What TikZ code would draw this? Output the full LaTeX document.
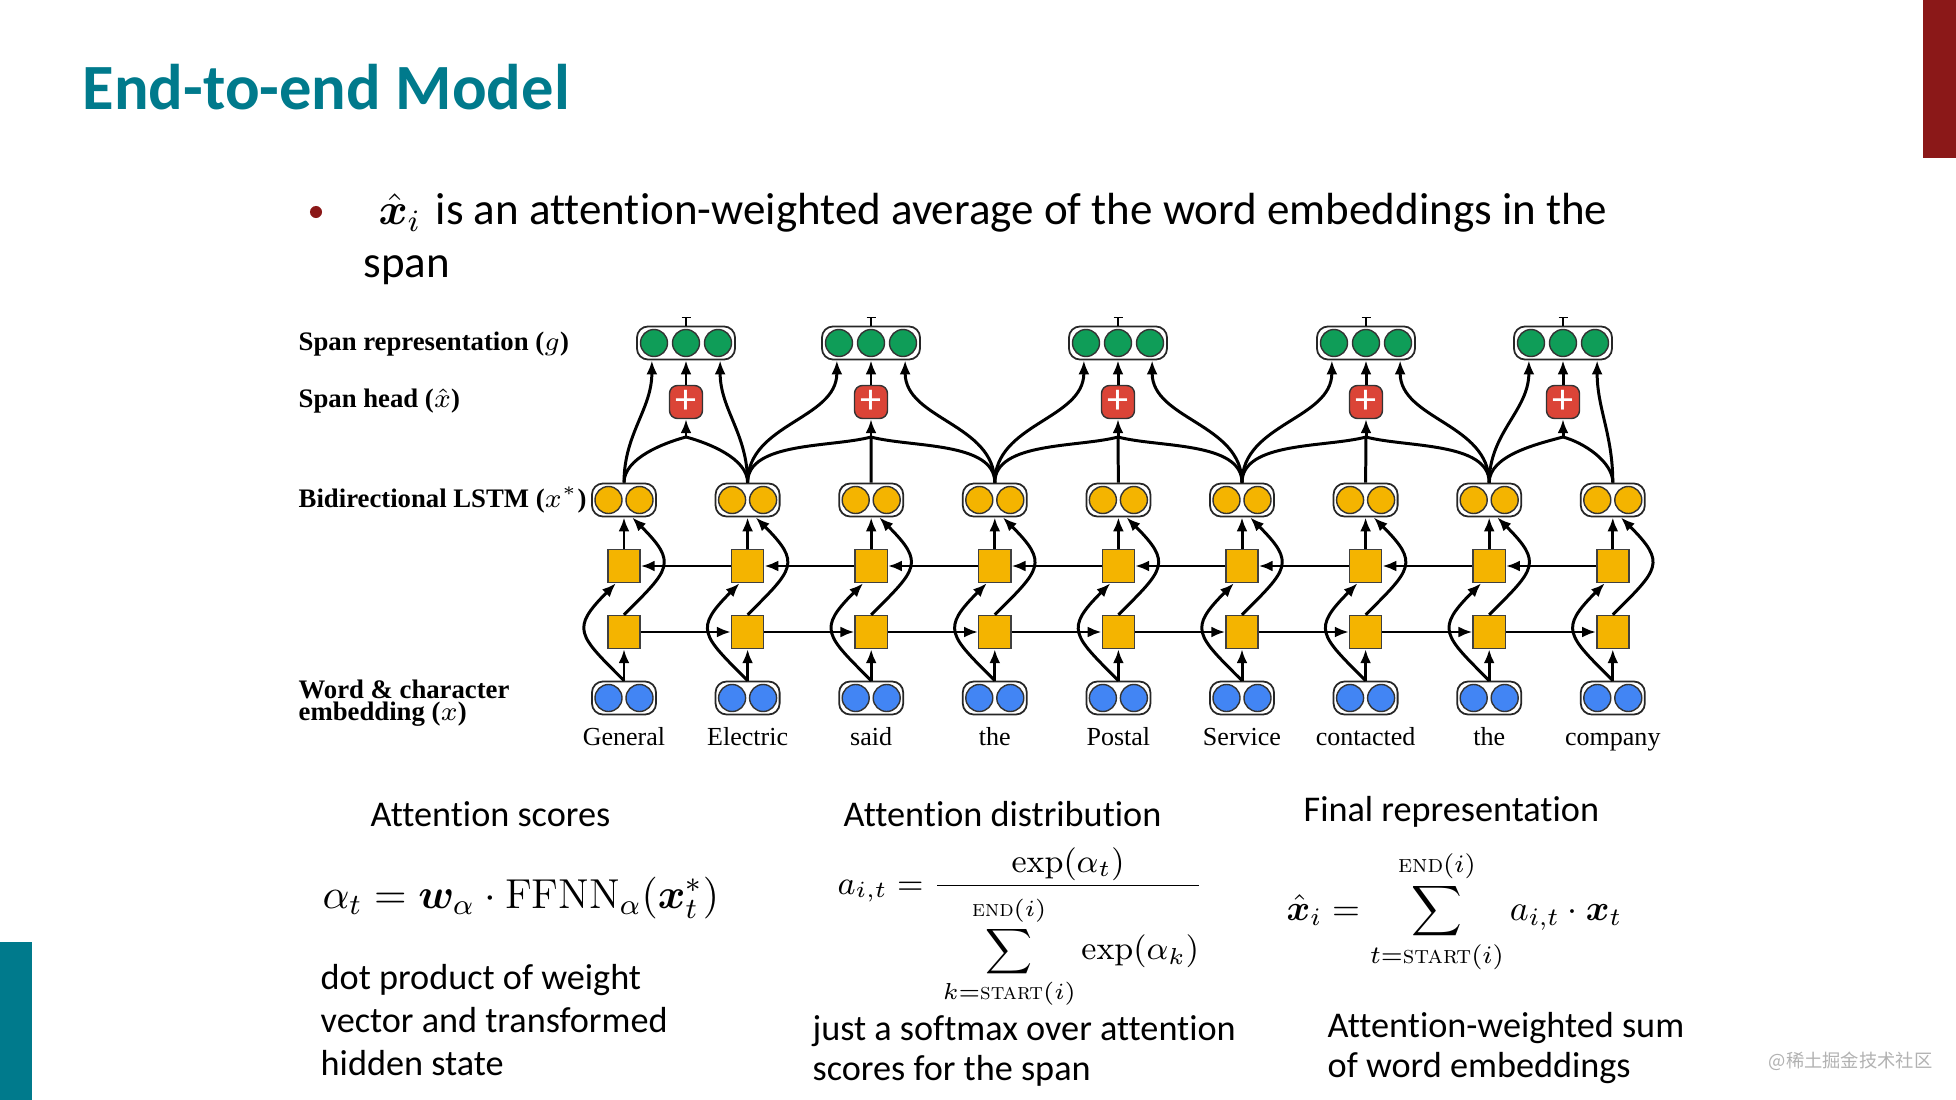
\documentclass[tikz,border=0pt]{standalone}
\usepackage{fix-cm}
\usepackage{amsmath,bm}
\usepackage{fontspec}
\newfontfamily\slidefont[Ligatures={NoCommon,NoContextual}]{Carlito}
\newfontfamily\paperfont{Liberation Serif}
\newfontfamily\cjkfont{Noto Sans CJK SC}
\usetikzlibrary{arrows.meta,positioning}

\definecolor{titleteal}{RGB}{0,122,140}
\definecolor{bardred}{RGB}{139,24,24}
\definecolor{gspan}{RGB}{15,157,88}
\definecolor{ylstm}{RGB}{244,180,0}
\definecolor{bemb}{RGB}{66,133,244}
\definecolor{rhead}{RGB}{219,68,55}
\newcommand{\setfs}[1]{\fontsize{#1}{#1}\selectfont}

\begin{document}
\begin{tikzpicture}[x=0.01cm, y=0.01cm,
  pairbox/.style={draw=black!85, fill=white, rounded corners=1.1mm, line width=0.5pt,
    minimum width=0.64cm, minimum height=0.33cm, inner sep=0pt},
  triobox/.style={pairbox, minimum width=0.98cm},
  neuron/.style={circle, draw=black!80, line width=0.4pt, minimum size=0.27cm, inner sep=0pt},
  cell/.style={draw=black!75, fill=ylstm, line width=0.4pt, minimum width=0.32cm,
    minimum height=0.33cm, inner sep=0pt},
  plusbox/.style={draw=black!80, fill=rhead, rounded corners=0.8mm, line width=0.4pt,
    minimum size=0.33cm, inner sep=0pt, text=white, font=\slidefont\setfs{12}},
  arr/.style={line width=0.85pt, -{Latex[length=1.4mm,width=1.1mm]}},
  wire/.style={line width=0.85pt},
  lbl/.style={anchor=base west, inner sep=0pt, font=\paperfont\bfseries\setfs{7.6}},
  word/.style={anchor=base, inner sep=0pt, font=\paperfont\setfs{7.4}},
  slide/.style={anchor=base west, inner sep=0pt, font=\slidefont\setfs{10.3}}]

  % 画布
  \fill[white] (0,0) rectangle (1956,-1100);
  \useasboundingbox (0,0) rectangle (1956,-1100);
  \fill[bardred] (1923,0) rectangle (1956,-158);
  \fill[titleteal] (0,-942) rectangle (32,-1100);

  % 标题与要点
  \node[anchor=base west, inner sep=0pt, text=titleteal, font=\slidefont\bfseries\setfs{18.35}]
    (title) at (82,-110) {End-to-end Model};
  \node[circle, fill=bardred, minimum size=0.12cm, inner sep=0pt] (dot) at (316,-212) {};
  \node[slide, font=\slidefont\setfs{12.6}] (xh) at (378,-225) {$\hat{\bm{x}}_i$};
  \node[slide, font=\slidefont\setfs{12.8}] (pt1) at (435,-225)
    {is an attention-weighted average of the word embeddings in the};
  \node[slide, font=\slidefont\setfs{12.8}] (pt2) at (363,-277) {span};

  % 左侧层名
  \node[lbl] (lg) at (298,-350) {Span representation ($g$)};
  \node[lbl] (lhead) at (298,-407) {Span head ($\hat{x}$)};
  \node[lbl] (llstm) at (298,-507) {Bidirectional LSTM ($x^{*}$)};
  \node[lbl] (lemb1) at (298,-698) {Word \& character};
  \node[lbl] (lemb2) at (298,-720) {embedding ($x$)};

  % 每个词一列
  \foreach \w [count=\i from 0, evaluate=\i as \cx using 624+123.6*\i] in
      {General,Electric,said,the,Postal,Service,contacted,the,company} {
    \node[pairbox] (b\i) at (\cx,-698) {};
    \node[neuron, fill=bemb] at (\cx-15.5,-698) {};
    \node[neuron, fill=bemb] at (\cx+15.5,-698) {};
    \node[cell] (f\i) at (\cx,-632) {};
    \node[cell] (r\i) at (\cx,-566) {};
    \node[pairbox] (h\i) at (\cx,-500) {};
    \node[neuron, fill=ylstm] at (\cx-15.5,-500) {};
    \node[neuron, fill=ylstm] at (\cx+15.5,-500) {};
    \node[word] (w\i) at (\cx,-745) {\w};
    \draw[arr] (b\i.north) -- (f\i.south);
    \draw[arr] (r\i.north) -- (h\i.south);
    \draw[arr] (b\i.north) to[out=135,in=-135,looseness=1.7] (r\i.-115);
    \draw[arr] (f\i.north) to[out=45,in=-45,looseness=1.7] (h\i.-65);
  }

  % 前向 / 后向
  \foreach \i [evaluate=\i as \j using int(\i+1)] in {0,...,7} {
    \draw[arr] (f\i.east) -- (f\j.west);
    \draw[arr] (r\j.west) -- (r\i.east);
  }

  % 片段表示
  \foreach \k/\gx/\lc/\rc in {1/686/0/1, 2/871/1/3, 3/1118/3/5, 4/1366/5/7, 5/1563/7/8} {
    \node[triobox] (g\k) at (\gx,-343) {};
    \node[neuron, fill=gspan] at (\gx-32,-343) {};
    \node[neuron, fill=gspan] at (\gx,-343) {};
    \node[neuron, fill=gspan] at (\gx+32,-343) {};
    \node[plusbox] (p\k) at (\gx,-402) {+};
    \coordinate (m\k) at (\gx,-437);
    \coordinate[above=0.09cm of g\k.north] (t\k);
    \draw[line width=0.5pt, -{Bar[width=0.9mm]}] (g\k.north) -- (t\k);
    \draw[arr] (h\lc.north) to[out=90,in=-90] (g\k.-153);
    \draw[arr] (h\rc.north) to[out=90,in=-90] (g\k.-27);
    \draw[arr] (p\k.north) -- (g\k.south);
    \draw[wire] (h\lc.north) to[out=90,in=-165,looseness=0.8] (m\k);
    \draw[wire] (h\rc.north) to[out=90,in=-15,looseness=0.8] (m\k);
    \draw[arr] (m\k) -- (p\k.south);
  }
  \foreach \k/\c in {2/2, 3/4, 4/6}
    \draw[wire] (h\c.north) -- (m\k);

  % 公式
  \node[slide] (s1) at (370,-826) {Attention scores};
  \node[slide] (s2) at (843,-826) {Attention distribution};
  \node[slide] (s3) at (1303,-821) {Final representation};
  \node[slide, font=\setfs{11.9}] (eq1) at (322,-908)
    {$\alpha_t = \bm{w}_{\alpha} \cdot \mathrm{FFNN}_{\alpha}(\bm{x}_t^{*})$};
  \node[slide, font=\setfs{9.4}] (eq2) at (837,-894)
    {$a_{i,t} = \dfrac{\exp(\alpha_t)}{\rule{0pt}{2.1em}\displaystyle\sum_{k=\textsc{start}(i)}^{\textsc{end}(i)} \exp(\alpha_k)}$};
  \node[slide, font=\setfs{10.2}] (eq3) at (1286,-920)
    {$\displaystyle\hat{\bm{x}}_i = \sum_{t=\textsc{start}(i)}^{\textsc{end}(i)} a_{i,t} \cdot \bm{x}_t$};

  \node[slide] (d1) at (320,-989) {dot product of weight};
  \node[slide] (d2) at (320,-1032) {vector and transformed};
  \node[slide] (d3) at (320,-1075) {hidden state};
  \node[slide] (e1) at (812,-1040) {just a softmax over attention};
  \node[slide] (e2) at (812,-1080) {scores for the span};
  \node[slide] (f1) at (1327,-1037) {Attention-weighted sum};
  \node[slide] (f2) at (1327,-1077) {of word embeddings};

  \node[anchor=base west, inner sep=0pt, text=black!30, font=\cjkfont\setfs{5.2}]
    (wm) at (1768,-1067) {@稀土掘金技术社区};
\end{tikzpicture}
\end{document}
